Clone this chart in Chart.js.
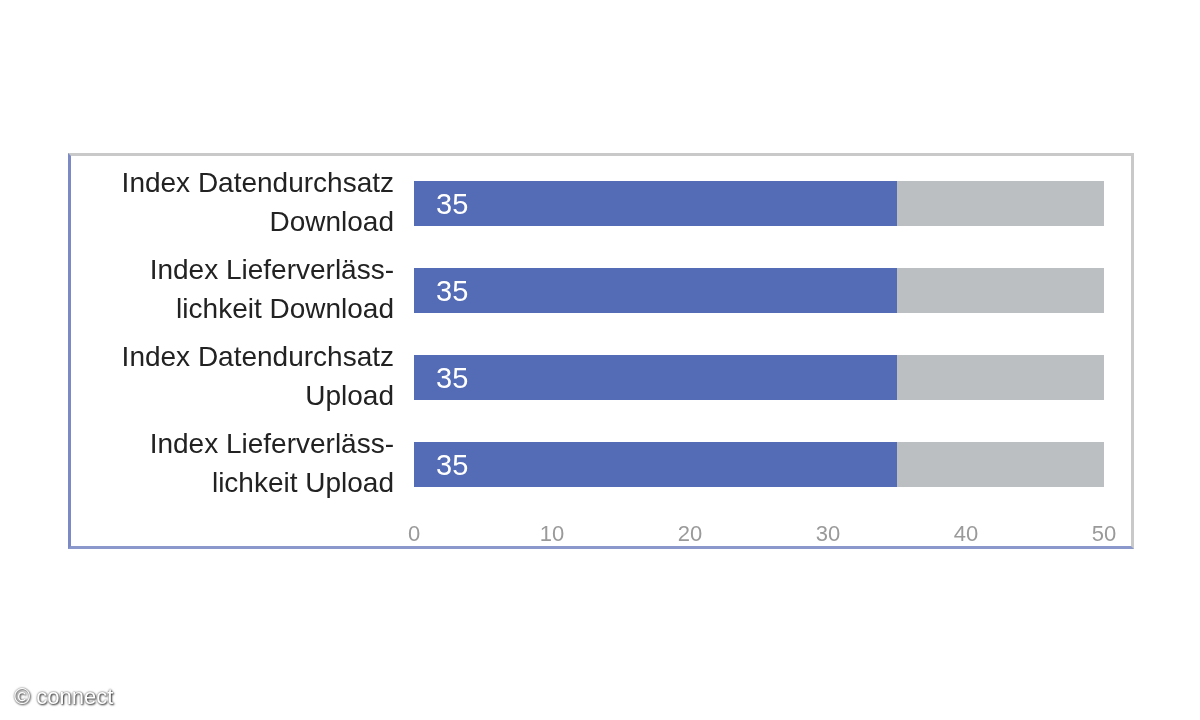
<!DOCTYPE html>
<html><head><meta charset="utf-8">
<script src="https://cdn.jsdelivr.net/npm/chart.js@4"></script>
<style>
html,body{margin:0;width:1200px;height:720px;background:#fff;overflow:hidden}
#frame{position:absolute;left:68px;top:153px;width:1060px;height:390px;border:3px solid #c9c9c9;border-left-color:#7b8ac4;border-bottom-color:#8a98cc}
#c{position:absolute;left:0;top:0}
#wm{position:absolute;left:14px;top:684px;font:22px 'Liberation Sans Narrow','Liberation Sans',sans-serif;color:#fff;text-shadow:0 0 2px #444,1px 1px 2px #333}
</style></head><body>
<div id="frame"></div>
<canvas id="c" width="1200" height="720"></canvas>
<div id="wm">© connect</div>
<script>
const labels=[['Index Datendurchsatz','Download'],['Index Lieferverläss-','lichkeit Download'],['Index Datendurchsatz','Upload'],['Index Lieferverläss-','lichkeit Upload']];
const scores=[35,35,35,35];
const rest=[15,15,15,15];
const xTicks=[0,10,20,30,40,50];
const narrow="'Liberation Sans Narrow','Liberation Sans',sans-serif";

/* ─ value labels inside the blue bars ─ */
const valueLabels={id:'valueLabels',afterDatasetsDraw(ch){
  const ctx=ch.ctx,m=ch.getDatasetMeta(0);
  ctx.save();ctx.fillStyle='#fff';ctx.font='29px '+narrow;ctx.textBaseline='middle';
  m.data.forEach((b,i)=>ctx.fillText(scores[i],b.base+22,b.y+2));
  ctx.restore();
}};

new Chart(document.getElementById('c'),{
  type:'bar',
  data:{labels,datasets:[
    {data:scores,backgroundColor:'#546bb5'},
    {data:rest,backgroundColor:'#bcbfc2'}
  ]},
  options:{
    indexAxis:'y',responsive:false,animation:false,
    layout:{padding:{left:76,right:96,top:160,bottom:172}},
    datasets:{bar:{barPercentage:0.52,categoryPercentage:1}},
    plugins:{legend:{display:false},tooltip:{enabled:false}},
    scales:{
      x:{stacked:true,min:0,max:50,afterBuildTicks:s=>{s.ticks=xTicks.map(v=>({value:v}))},
        grid:{display:false},border:{display:false},
        afterFit:s=>{s.height=40},
        ticks:{color:'#9a9a9a',font:{family:narrow,size:22},padding:6}},
      y:{stacked:true,grid:{display:false},border:{display:false},
        afterFit:s=>{s.width=338},
        ticks:{color:'#222',font:{family:narrow,size:28,lineHeight:1.4},padding:12}}
    }
  },
  plugins:[valueLabels]
});
</script></body></html>
